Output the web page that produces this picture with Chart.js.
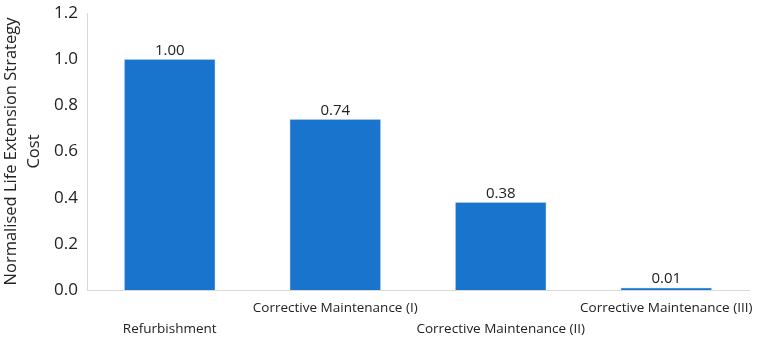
<!DOCTYPE html>
<html>
<head>
<meta charset="utf-8">
<script src="https://cdn.jsdelivr.net/npm/chart.js@4.4.0/dist/chart.umd.min.js"></script>
<style>
  html, body { margin: 0; padding: 0; background: #fff; }
  #wrap { width: 763px; height: 343px; }
</style>
</head>
<body>
<div id="wrap"><canvas id="costChart"></canvas></div>
<script>
// Normalised cost per life extension strategy
const categories = [
    'Refurbishment',
    'Corrective Maintenance (I)',
    'Corrective Maintenance (II)',
    'Corrective Maintenance (III)'
];
const costValues = [1.00, 0.74, 0.38, 0.01];
const yTicks = [0, 0.2, 0.4, 0.6, 0.8, 1.0, 1.2];

// stagger the category labels like the original (odd ones drop a line)
const staggered = categories.map((c, i) => i % 2 === 0 ? ['', c] : [c, '']);

const FONT = "'Open Sans', 'Noto Sans', sans-serif";

// writes the value above each bar
const valueLabels = {
    id: 'valueLabels',
    afterDatasetsDraw(chart) {
        const { ctx } = chart;
        const meta = chart.getDatasetMeta(0);
        ctx.save();
        ctx.font = '15px ' + FONT;
        ctx.fillStyle = '#222';
        ctx.textAlign = 'center';
        ctx.textBaseline = 'bottom';
        meta.data.forEach((bar, i) => {
            ctx.fillText(costValues[i].toFixed(2), bar.x, bar.y - 1);
        });
        ctx.restore();
    }
};

const ctx = document.getElementById('costChart').getContext('2d');
const costChart = new Chart(ctx, {
    type: 'bar',
    data: {
        labels: staggered,
        datasets: [{
            label: 'Normalised cost',
            data: costValues,
            backgroundColor: '#1874CD',
            borderColor: '#5b9be0',
            borderWidth: 0.5,
            categoryPercentage: 0.55,
            barPercentage: 1.0
        }]
    },
    options: {
        responsive: true,
        maintainAspectRatio: false,
        animation: false,
        layout: { padding: { top: 13, right: 14, bottom: 0, left: 0 } },
        plugins: {
            legend: { display: false },
            tooltip: { enabled: false }
        },
        scales: {
            x: {
                grid: { display: false, drawTicks: false },
                border: { display: true, color: '#d9d9d9', width: 1 },
                ticks: {
                    color: '#222',
                    font: { family: FONT, size: 13.5, lineHeight: 1.6 },
                    padding: 7,
                    maxRotation: 0,
                    autoSkip: false
                },
                afterFit(scale) { scale.height = 53; }
            },
            y: {
                min: 0,
                max: 1.2,
                afterBuildTicks(scale) {
                    scale.ticks = yTicks.map(v => ({ value: v }));
                },
                grid: { display: false, drawTicks: false },
                border: { display: true, color: '#d9d9d9', width: 1 },
                ticks: {
                    color: '#222',
                    font: { family: FONT, size: 17 },
                    padding: 9,
                    callback: v => Number(v).toFixed(1)
                },
                title: {
                    display: true,
                    text: ['Normalised Life Extension Strategy', 'Cost'],
                    color: '#222',
                    font: { family: FONT, size: 16.5, lineHeight: 1.4 },
                    padding: { top: 0, bottom: 4 }
                },
                afterFit(scale) {
                    scale.width = 87;
                    scale.paddingTop = 0;
                    scale.paddingBottom = 0;
                }
            }
        }
    },
    plugins: [valueLabels]
});
</script>
</body>
</html>
